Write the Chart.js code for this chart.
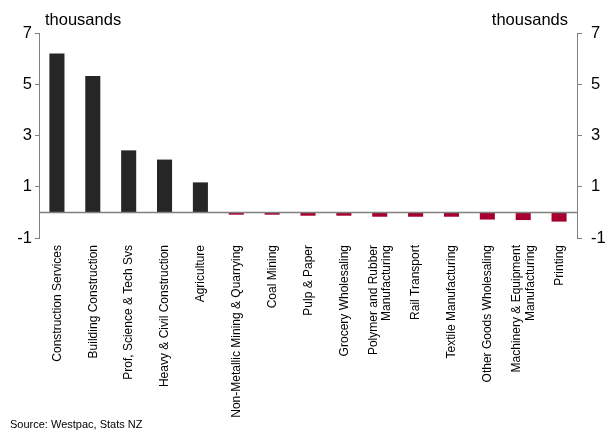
<!DOCTYPE html>
<html>
<head>
<meta charset="utf-8">
<script src="https://cdn.jsdelivr.net/npm/chart.js@4/dist/chart.umd.min.js"></script>
<style>
  html, body { margin: 0; padding: 0; background: #fff; }
  #wrap { width: 609px; height: 433px; position: relative; }
</style>
</head>
<body>
<div id="wrap"><canvas id="c" width="609" height="433"></canvas></div>
<script>
// Change in filled jobs by industry, thousands
const industries = [
  'Construction Services',
  'Building Construction',
  'Prof, Science & Tech Svs',
  'Heavy & Civil Construction',
  'Agriculture',
  'Non-Metallic Mining & Quarrying',
  'Coal Mining',
  'Pulp & Paper',
  'Grocery Wholesaling',
  ['Polymer and Rubber', 'Manufacturing'],
  'Rail Transport',
  'Textile Manufacturing',
  'Other Goods Wholesaling',
  ['Machinery & Equipment', 'Manufacturing'],
  'Printing'
];
const jobChange = [6.2, 5.32, 2.42, 2.06, 1.17, -0.09, -0.09, -0.13, -0.13, -0.17, -0.17, -0.17, -0.28, -0.3, -0.36];
const yTicks = [-1, 1, 3, 5, 7];

const FONT = '"Liberation Sans", Arial, Helvetica, sans-serif';
const AXIS_GREY = '#808080';
const POS_COLOR = '#262626';
const NEG_COLOR = '#A6002E';
const CAT_FONT_SIZE = 12;
const CAT_LINE_HEIGHT = 13.8;

// Axis headings, zero line, vertical category labels and source note
const decorations = {
  id: 'decorations',
  afterDatasetsDraw(chart) {
    const { ctx, chartArea, scales } = chart;
    const y0 = scales.y.getPixelForValue(0);
    ctx.save();
    ctx.strokeStyle = AXIS_GREY;
    ctx.lineWidth = 1.5;
    ctx.beginPath();
    ctx.moveTo(chartArea.left, y0);
    ctx.lineTo(chartArea.right, y0);
    ctx.stroke();
    ctx.restore();
  },
  afterDraw(chart) {
    const { ctx, chartArea, scales } = chart;
    ctx.save();
    ctx.fillStyle = '#000';

    // category names, read bottom-to-top, lines centred on each bar
    const xs = scales.x;
    ctx.font = CAT_FONT_SIZE + 'px ' + FONT;
    ctx.textAlign = 'right';
    ctx.textBaseline = 'middle';
    chart.data.labels.forEach((lab, i) => {
      const lines = Array.isArray(lab) ? lab : [lab];
      const px = xs.getPixelForTick(i);
      ctx.save();
      ctx.translate(px, xs.top + 7);
      ctx.rotate(-Math.PI / 2);
      lines.forEach((ln, j) => {
        ctx.fillText(ln, 0, (j - (lines.length - 1) / 2) * CAT_LINE_HEIGHT + 0.5);
      });
      ctx.restore();
    });

    ctx.textBaseline = 'alphabetic';
    ctx.font = '16.5px ' + FONT;
    ctx.textAlign = 'left';
    ctx.fillText('thousands', chartArea.left + 6, chartArea.top - 8);
    ctx.textAlign = 'right';
    ctx.fillText('thousands', chartArea.right - 9, chartArea.top - 8);
    ctx.font = '11px ' + FONT;
    ctx.textAlign = 'left';
    ctx.fillText('Source: Westpac, Stats NZ', 10, chart.height - 5);
    ctx.restore();
  }
};

const setTicks = (scale) => { scale.ticks = yTicks.map(v => ({ value: v })); };

const yAxisBase = {
  type: 'linear',
  min: -1,
  max: 7,
  afterBuildTicks: setTicks,
  border: { display: true, color: AXIS_GREY, width: 1 },
  grid: { drawOnChartArea: false, drawTicks: true, tickLength: 4, tickColor: AXIS_GREY, tickWidth: 1 },
  ticks: { color: '#000', font: { family: FONT, size: 16.5 }, padding: 3 }
};

new Chart(document.getElementById('c'), {
  type: 'bar',
  data: {
    labels: industries,
    datasets: [{
      data: jobChange,
      yAxisID: 'y',
      backgroundColor: (c) => (c.raw < 0 ? NEG_COLOR : POS_COLOR),
      borderWidth: 0,
      categoryPercentage: 1,
      barPercentage: 0.42
    }]
  },
  options: {
    responsive: false,
    animation: false,
    devicePixelRatio: 1,
    layout: { padding: { top: 33, left: 0, right: 0, bottom: 0 } },
    plugins: { legend: { display: false }, tooltip: { enabled: false } },
    scales: {
      x: {
        offset: true,
        border: { display: false },
        grid: { display: false, drawTicks: false },
        ticks: { display: false, autoSkip: false },
        afterFit: (s) => { s.height = 195; }
      },
      y: Object.assign({}, yAxisBase, {
        position: 'left',
        afterFit: (s) => { s.width = 39; }
      }),
      y2: Object.assign({}, yAxisBase, {
        position: 'right',
        display: true,
        grid: Object.assign({}, yAxisBase.grid, { tickLength: 5 }),
        ticks: Object.assign({}, yAxisBase.ticks, { padding: 9 }),
        afterFit: (s) => { s.width = 32; }
      })
    }
  },
  plugins: [decorations]
});
</script>
</body>
</html>
